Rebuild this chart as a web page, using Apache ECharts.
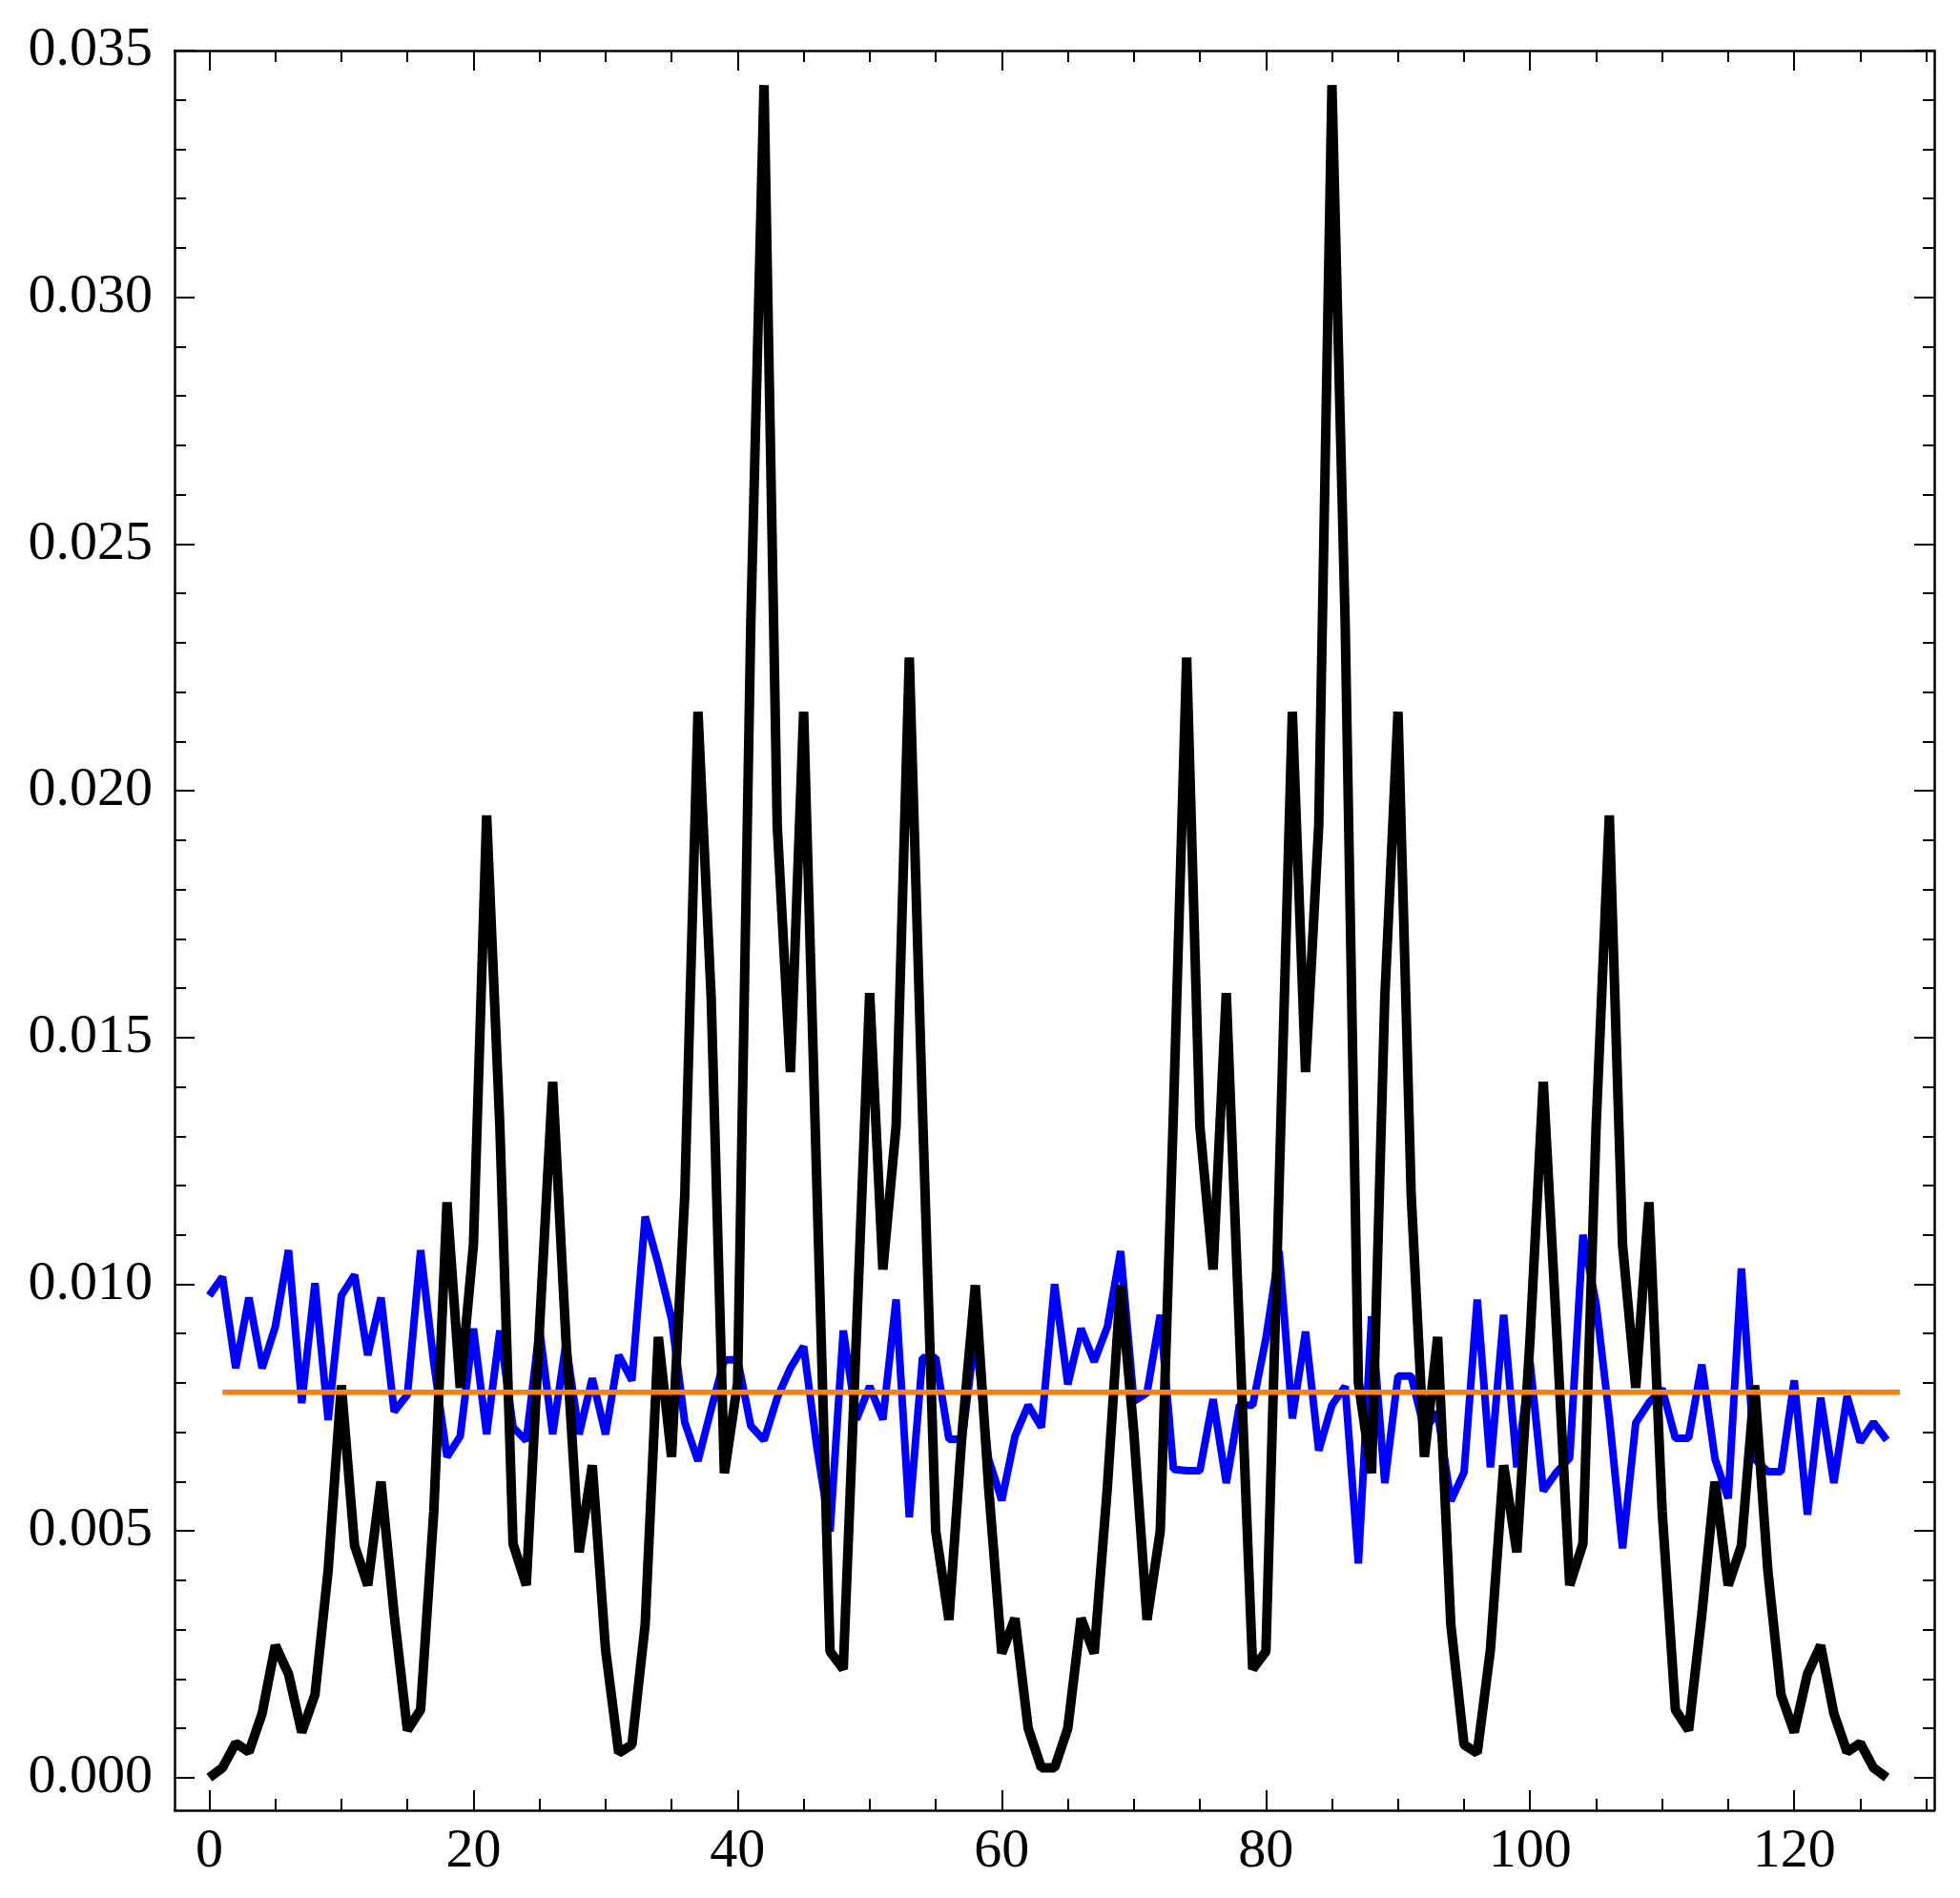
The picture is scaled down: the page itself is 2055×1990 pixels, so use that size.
<!DOCTYPE html>
<html>
<head>
<meta charset="utf-8">
<script src="https://cdn.jsdelivr.net/npm/echarts@6/dist/echarts.min.js"></script>
<style>
  html, body { margin: 0; padding: 0; background: #fff; }
  #chart { width: 2055px; height: 1990px; }
</style>
</head>
<body>
<div id="chart"></div>
<script>
// black series (0..127)
const blackValues = [
  0.0, 0.0002, 0.0007, 0.00052, 0.0013, 0.00268, 0.0021, 0.00092, 0.00168, 0.0042,
  0.00795, 0.0047, 0.0039, 0.006, 0.0033, 0.00096, 0.00138, 0.0054, 0.01166, 0.0079,
  0.0108, 0.0195, 0.0132, 0.00474, 0.0039, 0.0091, 0.0141, 0.0089, 0.00457, 0.00633,
  0.0026, 0.0005, 0.00067, 0.0031, 0.00893, 0.0065, 0.0118, 0.0216, 0.0158, 0.00617,
  0.008, 0.0234, 0.0343, 0.0193, 0.0143, 0.0216, 0.012, 0.00256, 0.0022, 0.009,
  0.0159, 0.0103, 0.0132, 0.0227, 0.0135, 0.005, 0.0032, 0.007, 0.00998, 0.0059,
  0.00252, 0.00323, 0.001, 0.0002,
  0.0002, 0.001, 0.00323, 0.00252, 0.0059, 0.00998, 0.007, 0.0032, 0.005, 0.0135,
  0.0227, 0.0132, 0.0103, 0.0159, 0.009, 0.0022, 0.00256, 0.012, 0.0216, 0.0143,
  0.0193, 0.0343, 0.0234, 0.008, 0.00617, 0.0158, 0.0216, 0.0118, 0.0065, 0.00893,
  0.0031, 0.00067, 0.0005, 0.0026, 0.00633, 0.00457, 0.0089, 0.0141, 0.0091, 0.0039,
  0.00474, 0.0132, 0.0195, 0.0108, 0.0079, 0.01166, 0.0054, 0.00138, 0.00096, 0.0033,
  0.006, 0.0039, 0.0047, 0.00795, 0.0042, 0.00168, 0.00092, 0.0021, 0.00268, 0.0013,
  0.00052, 0.0007, 0.0002, 0.0
];

// blue series (0..127)
const blueValues = [
  0.00977, 0.01015, 0.0083, 0.00973, 0.0083, 0.00914, 0.01069, 0.00759, 0.01002, 0.00725,
  0.00977, 0.01019, 0.00856, 0.00973, 0.00742, 0.00776, 0.01069, 0.0084, 0.0065, 0.00692,
  0.0091, 0.00696, 0.00906, 0.0071, 0.00683, 0.0091, 0.00696, 0.0088, 0.00696, 0.00809,
  0.00696, 0.00856, 0.00805, 0.01137, 0.0104, 0.0093, 0.0072, 0.00642, 0.00747, 0.00847,
  0.00847, 0.00713, 0.00684, 0.0077, 0.0083, 0.00874, 0.0067, 0.00499, 0.00906, 0.00726,
  0.00793, 0.00726, 0.00969, 0.00528, 0.00851, 0.00851, 0.00686, 0.00686, 0.009, 0.00646,
  0.00562, 0.00692, 0.00755, 0.0071, 0.01, 0.00797, 0.0091, 0.00843, 0.00914, 0.01067,
  0.00763, 0.0078, 0.00938, 0.00625, 0.00622, 0.00622, 0.00767, 0.00597, 0.00755, 0.00755,
  0.0089, 0.01067, 0.00728, 0.00904, 0.00663, 0.00755, 0.00793, 0.00434, 0.00935, 0.00597,
  0.00814, 0.00814, 0.00705, 0.0074, 0.00561, 0.00619, 0.00969, 0.00629, 0.00938, 0.00629,
  0.00842, 0.00581, 0.00619, 0.00648, 0.011, 0.0096, 0.0073, 0.00465, 0.00719, 0.0076,
  0.00788, 0.00688, 0.00688, 0.00837, 0.00646, 0.00566, 0.01032, 0.00646, 0.0062, 0.0062,
  0.00805, 0.00533, 0.0077, 0.00597, 0.00773, 0.0068, 0.0072, 0.00684
];

// orange reference level, drawn from x = 1 to x = 128
const orangeX = [1, 128];
const orangeValues = [0.0078125, 0.0078125];

// ticks
const xMajorTicks = [0, 20, 40, 60, 80, 100, 120];
const xMinorTicks = [5, 10, 15, 25, 30, 35, 45, 50, 55, 65, 70, 75, 85, 90, 95, 105, 110, 115, 125, 130];
const yMajorTicks = [0, 0.005, 0.01, 0.015, 0.02, 0.025, 0.03, 0.035];
const yMinorTicks = [
  0.001, 0.002, 0.003, 0.004, 0.006, 0.007, 0.008, 0.009,
  0.011, 0.012, 0.013, 0.014, 0.016, 0.017, 0.018, 0.019,
  0.021, 0.022, 0.023, 0.024, 0.026, 0.027, 0.028, 0.029,
  0.031, 0.032, 0.033, 0.034
];

const X_MIN = -2.63, X_MAX = 130.6;
const Y_MIN = -0.00066, Y_MAX = 0.035;

const FONT = "'Liberation Serif', 'DejaVu Serif', serif";

const chart = echarts.init(document.getElementById("chart"), null, { renderer: "canvas" });

function xAxisDef(position, ticks, len, showLine, showLabel) {
  return {
    type: "value",
    position: position,
    min: X_MIN,
    max: X_MAX,
    axisLine: { show: showLine, onZero: false, lineStyle: { color: "#000", width: 2.5 } },
    axisTick: {
      show: true, inside: true, length: len, customValues: ticks,
      lineStyle: { color: "#000", width: 2 }
    },
    axisLabel: {
      show: showLabel, customValues: ticks, margin: 15,
      color: "#000", fontFamily: FONT, fontSize: 58,
      formatter: v => String(v)
    },
    splitLine: { show: false }
  };
}

function yAxisDef(position, ticks, len, showLine, showLabel) {
  return {
    type: "value",
    position: position,
    min: Y_MIN,
    max: Y_MAX,
    axisLine: { show: showLine, onZero: false, lineStyle: { color: "#000", width: 2.5 } },
    axisTick: {
      show: true, inside: true, length: len, customValues: ticks,
      lineStyle: { color: "#000", width: 2 }
    },
    axisLabel: {
      show: showLabel, customValues: ticks, margin: 23,
      color: "#000", fontFamily: FONT, fontSize: 58,
      formatter: v => v.toFixed(3)
    },
    splitLine: { show: false }
  };
}

const option = {
  animation: false,
  backgroundColor: "#fff",
  grid: { left: 183, right: 27, top: 53, bottom: 92, containLabel: false },
  xAxis: [
    xAxisDef("bottom", xMajorTicks, 21, true, true),
    xAxisDef("bottom", xMinorTicks, 12, false, false),
    xAxisDef("top", xMajorTicks, 21, true, false),
    xAxisDef("top", xMinorTicks, 12, false, false)
  ],
  yAxis: [
    yAxisDef("left", yMajorTicks, 21, true, true),
    yAxisDef("left", yMinorTicks, 12, false, false),
    yAxisDef("right", yMajorTicks, 21, true, false),
    yAxisDef("right", yMinorTicks, 12, false, false)
  ],
  series: [
    {
      type: "line",
      xAxisIndex: 0, yAxisIndex: 0,
      data: blueValues.map((v, i) => [i, v]),
      showSymbol: false,
      lineStyle: { color: "#0000ff", width: 8 },
      z: 2
    },
    {
      type: "line",
      xAxisIndex: 0, yAxisIndex: 0,
      data: blackValues.map((v, i) => [i, v]),
      showSymbol: false,
      lineStyle: { color: "#000000", width: 10 },
      z: 3
    },
    {
      type: "line",
      xAxisIndex: 0, yAxisIndex: 0,
      data: orangeX.map((x, i) => [x, orangeValues[i]]),
      showSymbol: false,
      lineStyle: { color: "#ff8000", width: 5.5 },
      z: 4
    }
  ]
};

chart.setOption(option);
</script>
</body>
</html>
